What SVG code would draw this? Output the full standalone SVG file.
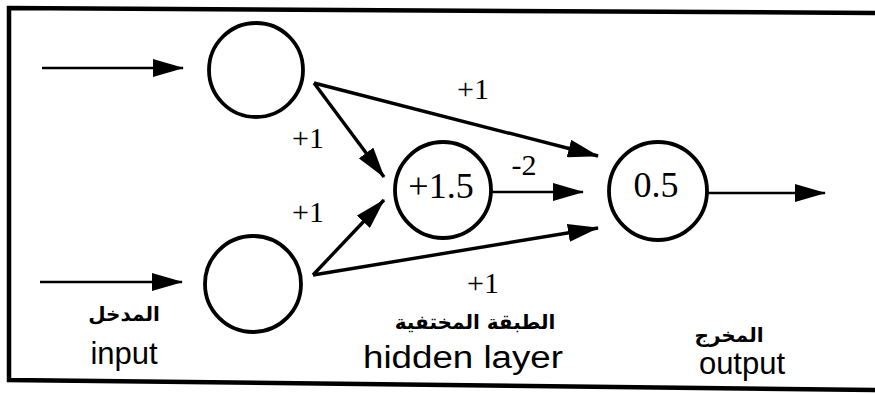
<svg xmlns="http://www.w3.org/2000/svg" width="875" height="394" viewBox="0 0 875 394">
<style>
.node{fill:#fff;stroke:#000;stroke-width:3.8}
.w{font-family:"Liberation Serif","Times New Roman",serif;font-size:30px;fill:#000;text-anchor:middle}
.v{font-family:"Liberation Serif","Times New Roman",serif;font-size:36px;fill:#000;text-anchor:middle}
.en{font-family:"Liberation Sans",Arial,sans-serif;font-size:31px;fill:#000;text-anchor:middle}
.ar{font-family:"DejaVu Sans",sans-serif;font-size:20px;font-weight:bold;fill:#000;text-anchor:middle}
.e{stroke:#000;fill:none}
.thin{stroke-width:2.4}
.thick{stroke-width:3.4}
</style>
<defs>
<marker id="ah" markerUnits="userSpaceOnUse" markerWidth="32" markerHeight="18" refX="30" refY="9" orient="auto" viewBox="0 0 32 18">
<path d="M0,0 L31,9 L0,18 Z" fill="#000"/>
</marker>
</defs>
<path d="M875,13 L9,8 L9,380 L875,390" fill="none" stroke="#000" stroke-width="4.5"/>
<g id="connectors">
<line class="e thin" x1="42" y1="68" x2="183" y2="68" marker-end="url(#ah)"/>
<line class="e thin" x1="40" y1="282" x2="182" y2="282" marker-end="url(#ah)"/>
<line class="e thick" x1="314" y1="83" x2="384" y2="177" marker-end="url(#ah)"/>
<line class="e thick" x1="314" y1="83" x2="598" y2="156" marker-end="url(#ah)"/>
<line class="e thick" x1="313" y1="275" x2="384" y2="200" marker-end="url(#ah)"/>
<line class="e thick" x1="313" y1="275" x2="598" y2="228" marker-end="url(#ah)"/>
<line class="e thin" x1="492" y1="192" x2="583" y2="192" marker-end="url(#ah)"/>
<line class="e thin" x1="708" y1="193" x2="825" y2="193" marker-end="url(#ah)"/>
<text class="w" x="308" y="148">+1</text>
<text class="w" x="473" y="99">+1</text>
<text class="w" x="524" y="175">-2</text>
<text class="w" x="308" y="222">+1</text>
<text class="w" x="483" y="293">+1</text>
</g>
<g id="input1"><circle class="node" cx="256" cy="70" r="47"/></g>
<g id="input2"><circle class="node" cx="253" cy="284" r="48"/></g>
<g id="hidden"><circle class="node" cx="443" cy="190" r="48"/><text class="v" x="441" y="198">+1.5</text></g>
<g id="output"><circle class="node" cx="658" cy="191" r="49"/><text class="v" x="656" y="197">0.5</text></g>
<g id="labels">
<text class="ar" x="124" y="321" direction="rtl">المدخل</text>
<text class="en" x="124" y="364">input</text>
<text class="ar" x="475" y="329" direction="rtl">الطبقة المختفية</text>
<text class="en" x="463" y="368" textLength="200" lengthAdjust="spacingAndGlyphs">hidden layer</text>
<text class="ar" x="729" y="342" direction="rtl">المخرج</text>
<text class="en" x="742" y="374">output</text>
</g>
</svg>
